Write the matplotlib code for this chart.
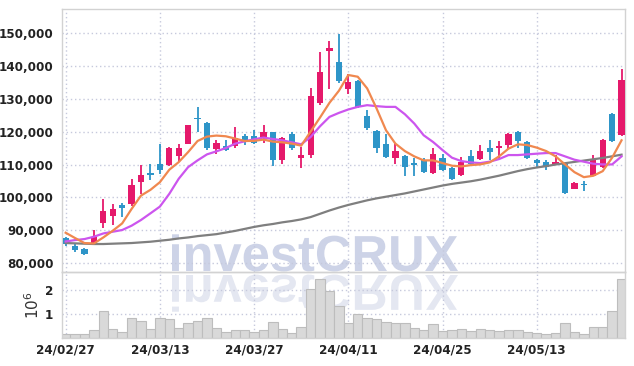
import matplotlib
matplotlib.use('Agg')
import matplotlib.pyplot as plt
from matplotlib.ticker import FuncFormatter
from matplotlib.textpath import TextPath
from matplotlib.patches import PathPatch
from matplotlib.font_manager import FontProperties
from matplotlib.transforms import Affine2D, IdentityTransform

# Tick labels (every 10th trading day)
date_labels = ['24/02/27', '24/03/13', '24/03/27', '24/04/11', '24/04/25', '24/05/13']
date_pos = [0, 10, 20, 30, 40, 50]

# Daily candles
opens = [87600, 85200, 84300, 86000, 92200, 94300, 97600, 98000, 104600, 107500,
         110200, 109800, 112700, 116400, 124100, 122600, 114700, 115600, 115500, 118600,
         118600, 118400, 119800, 111500, 119200, 112100, 112900, 128800, 144700, 141200,
         133100, 135500, 124700, 120200, 116200, 112100, 112500, 110500, 111300, 107400,
         111900, 108800, 106800, 112500, 111700, 115000, 115000, 115800, 119900, 116800,
         111300, 110900, 110000, 110200, 102500, 104200, 106600, 109200, 125300, 119000]
highs = [88000, 86000, 84500, 90000, 99400, 98000, 98200, 105700, 109900, 110200,
         116100, 115300, 116100, 122000, 127400, 123000, 117600, 117600, 121400, 119200,
         120400, 121900, 119900, 118400, 119800, 115300, 133200, 144200, 147600, 149800,
         137600, 135800, 126500, 120600, 119400, 116500, 112900, 112100, 112100, 115100,
         113100, 109200, 112300, 114300, 115800, 117600, 117200, 119600, 120200, 117300,
         111700, 111300, 112900, 110300, 104800, 104900, 112900, 117800, 125600, 139000]
lows = [85200, 83400, 82600, 85600, 90700, 91700, 93900, 97400, 101100, 105300,
        107200, 109500, 110700, 116200, 120000, 114500, 113300, 114100, 115100, 115800,
        116100, 116600, 109600, 110200, 114300, 108800, 111900, 128000, 133100, 134900,
        131400, 127200, 120400, 113500, 111900, 110200, 106600, 106600, 107400, 107200,
        108000, 105300, 106600, 110000, 111300, 111300, 111700, 114800, 115100, 111600,
        109000, 108400, 109800, 101100, 102400, 101900, 106400, 108900, 116900, 118800]
closes = [85800, 84100, 82900, 87800, 95800, 96500, 96800, 103900, 106700, 106700,
          108400, 114900, 114900, 121900, 123800, 114900, 116500, 114500, 118000, 117400,
          116600, 119800, 111500, 118000, 115000, 112900, 130800, 138200, 145500, 135300,
          135100, 127600, 121000, 114900, 112300, 114100, 109200, 109800, 107700, 113300,
          108200, 105500, 110900, 110200, 114000, 113900, 115600, 119400, 117200, 112000,
          110600, 109200, 110900, 101300, 104500, 103700, 111300, 117400, 117200, 135700]

# Volume in millions of shares
volumes = [0.15, 0.15, 0.15, 0.32, 1.11, 0.36, 0.25, 0.82, 0.70, 0.36,
           0.82, 0.78, 0.40, 0.61, 0.70, 0.82, 0.40, 0.25, 0.32, 0.32,
           0.25, 0.32, 0.65, 0.36, 0.19, 0.45, 2.03, 2.45, 1.95, 1.33,
           0.61, 0.99, 0.82, 0.78, 0.65, 0.61, 0.61, 0.40, 0.33, 0.57,
           0.28, 0.32, 0.36, 0.28, 0.36, 0.32, 0.28, 0.32, 0.32, 0.24,
           0.19, 0.15, 0.19, 0.61, 0.24, 0.15, 0.45, 0.45, 1.11, 2.45]

# Moving average lines as drawn on the chart
ma_short = [89240, 87620, 86090, 85970, 87800, 89850, 92080, 96480, 100550, 102290,
            104620, 108410, 110740, 113790, 117160, 118500, 118810, 118600, 117890, 117160,
            117200, 117590, 116970, 116760, 116360, 115750, 120030, 124310, 128780, 132450,
            137250, 136730, 133180, 127070, 120430, 116360, 114100, 112480, 111260, 111260,
            110450, 109640, 109420, 109820, 110030, 110640, 112480, 114830, 116150, 115930,
            115140, 114100, 112480, 110030, 107680, 106150, 106580, 107980, 112080, 117370]
ma_mid = [86580, 87000, 87310, 88020, 89020, 89540, 90060, 91380, 93120, 95140,
          97190, 101070, 105660, 109210, 111260, 113090, 114010, 115020, 116360, 117060,
          117680, 118200, 117770, 117370, 116760, 116150, 118380, 121650, 124500, 125720,
          126760, 127550, 128070, 127770, 127550, 127550, 125320, 122480, 118900, 116850,
          114400, 112080, 111040, 110640, 110430, 110860, 111660, 112880, 112880, 113090,
          113300, 113490, 113490, 112480, 111470, 110860, 110250, 110030, 110030, 112480]
ma_long = [86100, 86000, 85900, 85800, 85800, 85900, 86000, 86100, 86300, 86500,
           86800, 87100, 87500, 87800, 88200, 88500, 88800, 89300, 89800, 90400,
           91000, 91500, 91900, 92400, 92800, 93300, 94000, 95000, 96000, 96900,
           97700, 98400, 99100, 99700, 100200, 100700, 101200, 101800, 102400, 103000,
           103600, 104100, 104500, 104900, 105400, 106000, 106600, 107300, 108000, 108600,
           109100, 109500, 110000, 110400, 110800, 111200, 111600, 112000, 112500, 113000]

UP = '#e5196b'
DOWN = '#2e95c8'
GRID = '#c6c9dc'
SPINE = '#d2d2d2'
TICKFONT = dict(family='DejaVu Sans', stretch='condensed', weight='bold', size=9.5, color='#222222')

fig = plt.figure(figsize=(6.34, 3.66), dpi=100)
ax = fig.add_axes([0.0973, 0.257, 0.889, 0.718])
axv = fig.add_axes([0.0973, 0.0765, 0.889, 0.1803], sharex=ax)
for a in (ax, axv):
    a.set_facecolor('none')
    for s in a.spines.values():
        s.set_color(SPINE)
        s.set_linewidth(1.0)
    a.grid(True, color=GRID, linestyle=(0, (1, 2)), linewidth=1.0)
    a.set_axisbelow(True)
    a.tick_params(length=0, pad=6)

x = list(range(len(opens)))

# candles
colors = [UP if c >= o else DOWN for o, c in zip(opens, closes)]
ax.vlines(x, lows, highs, colors=colors, linewidth=1.3, zorder=2)
bodies = [max(abs(c - o), 350) for o, c in zip(opens, closes)]
bottoms = [min(o, c) for o, c in zip(opens, closes)]
ax.bar(x, bodies, bottom=bottoms, width=0.66, color=colors, linewidth=0, zorder=3)

# moving averages
ax.plot(x, ma_long, color='#7f7f7f', linewidth=1.6, zorder=4)
ax.plot(x, ma_mid, color='#cc55ee', linewidth=1.6, zorder=4)
ax.plot(x, ma_short, color='#f0884f', linewidth=1.6, zorder=4)

ax.set_xlim(-0.42, 59.4)
ax.set_ylim(77300, 157300)
ax.set_yticks([80000, 90000, 100000, 110000, 120000, 130000, 140000, 150000])
ax.yaxis.set_major_formatter(FuncFormatter(lambda v, p: f'{int(v):,}'))
ax.tick_params(labelbottom=False)
for lab in ax.get_yticklabels():
    lab.set(**TICKFONT)

# volume
axv.bar(x, volumes, width=1.0, color='#d9d9d9', edgecolor='#bdbdbd', linewidth=0.8, zorder=2)
axv.set_ylim(0, 2.75)
axv.set_yticks([1, 2])
axv.set_xticks(date_pos)
axv.set_xticklabels(date_labels)
for lab in axv.get_yticklabels() + axv.get_xticklabels():
    lab.set(**TICKFONT)
axv.tick_params(axis='x', pad=4)
axv.set_ylabel(r'$10^6$', fontsize=11, color='#333333', labelpad=2)

# watermark with reflection
fp = FontProperties(family='Liberation Sans', weight='bold')
tp = TextPath((0, 0), 'investCRUX', size=50, prop=fp)
bb = tp.get_extents()
sc = 286.0 / bb.width
H = 366
main_tr = Affine2D().translate(-bb.x0, 0).scale(sc).translate(172, H - 271)
refl_tr = Affine2D().translate(-bb.x0, 0).scale(sc, -sc).translate(172, H - 275)
fig.add_artist(PathPatch(main_tr.transform_path(tp), facecolor='#cdd3e7', edgecolor='none',
                         transform=IdentityTransform(), zorder=-1))
fig.add_artist(PathPatch(refl_tr.transform_path(tp), facecolor='#e4e7f1', edgecolor='none',
                         transform=IdentityTransform(), zorder=-1))

fig.savefig('out.png', dpi=100)
